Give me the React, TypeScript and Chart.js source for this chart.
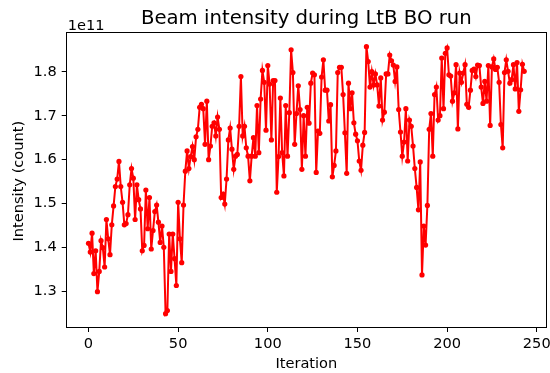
import React, { useEffect, useRef } from "react";
import { Chart, registerables } from "chart.js";

Chart.register(...registerables);

// Beam intensity, in units of 1e11 counts, one value per iteration
const intensityE11: number[] = [
  1.410, 1.390, 1.433, 1.341, 1.393, 1.300, 1.346, 1.416, 1.400, 1.356,
  1.464, 1.420, 1.384, 1.452, 1.495, 1.539, 1.556, 1.596, 1.539, 1.503,
  1.452, 1.455, 1.475, 1.543, 1.580, 1.558, 1.464, 1.543, 1.509,
  1.488, 1.393, 1.405, 1.531, 1.443, 1.514, 1.397, 1.439, 1.482, 1.497,
  1.458, 1.412, 1.449, 1.401, 1.250, 1.257, 1.431, 1.346, 1.431, 1.375,
  1.314, 1.503, 1.420, 1.366, 1.497, 1.574, 1.620, 1.580, 1.607, 1.630,
  1.600, 1.652, 1.669,
  1.719, 1.726, 1.716, 1.635, 1.733, 1.600, 1.631, 1.676, 1.684, 1.654,
  1.697, 1.669, 1.514, 1.522, 1.499, 1.556, 1.645, 1.672, 1.624, 1.578,
  1.608, 1.612, 1.676, 1.789, 1.654, 1.676, 1.627, 1.608, 1.552, 1.608,
  1.650,
  1.608, 1.723, 1.616, 1.738, 1.803, 1.776, 1.667, 1.814, 1.772, 1.645,
  1.780, 1.780, 1.526, 1.607, 1.740, 1.616, 1.563, 1.723, 1.608, 1.707,
  1.850, 1.798, 1.635, 1.705, 1.768, 1.714, 1.578, 1.700, 1.608, 1.719,
  1.683, 1.774,
  1.797, 1.793, 1.571, 1.665, 1.660, 1.788, 1.827, 1.758, 1.758, 1.688,
  1.725, 1.561, 1.587, 1.620, 1.798, 1.810, 1.810, 1.748, 1.661, 1.569,
  1.774, 1.716, 1.752, 1.684, 1.658, 1.643, 1.597, 1.576, 1.633, 1.662,
  1.857, 1.823,
  1.765, 1.800, 1.770, 1.795, 1.770, 1.722, 1.786, 1.690, 1.708, 1.795,
  1.795, 1.838, 1.825, 1.815, 1.778, 1.811, 1.714, 1.663, 1.608, 1.640,
  1.716, 1.597, 1.690, 1.676, 1.631, 1.580, 1.537, 1.486, 1.595, 1.338,
  1.449, 1.406, 1.496, 1.669,
  1.705, 1.608, 1.748, 1.765, 1.690, 1.700, 1.831, 1.716, 1.842, 1.854,
  1.793, 1.790, 1.733, 1.752, 1.816, 1.670, 1.797, 1.776, 1.797, 1.816,
  1.726, 1.719, 1.758, 1.803, 1.806, 1.789, 1.815, 1.814, 1.765, 1.728,
  1.778,
  1.733, 1.814, 1.678, 1.811, 1.829, 1.805, 1.810, 1.776, 1.680, 1.627,
  1.798, 1.827, 1.801, 1.774, 1.782, 1.816, 1.761, 1.821, 1.710, 1.759,
  1.817, 1.801,
];

const iterations: number[] = intensityE11.map((_, i) => i);

const xTicks: number[] = [0, 50, 100, 150, 200, 250];
const yTicks: number[] = [1.3, 1.4, 1.5, 1.6, 1.7, 1.8];

const titleText = "Beam intensity during LtB BO run";
const xLabel = "Iteration";
const yLabel = "Intensity (count)";
const offsetText = "1e11";

const FONT = '"DejaVu Sans", "Liberation Sans", sans-serif';

export default function App() {
  const canvasRef = useRef<HTMLCanvasElement | null>(null);

  useEffect(() => {
    const canvas = canvasRef.current;
    if (!canvas) return;

    const n = iterations.length;
    const xMin = 0 - (n - 1) * 0.05;
    const xMax = (n - 1) * 1.05;
    const yLo = Math.min(...intensityE11);
    const yHi = Math.max(...intensityE11);
    const yMin = yLo - (yHi - yLo) * 0.05;
    const yMax = yHi + (yHi - yLo) * 0.05;

    const decor = {
      id: "decor",
      afterDraw(chart: any) {
        const { ctx, chartArea } = chart;
        const cx = (chartArea.left + chartArea.right) / 2;
        const cy = (chartArea.top + chartArea.bottom) / 2;
        ctx.save();
        // frame
        ctx.strokeStyle = "#000";
        ctx.lineWidth = 1;
        ctx.strokeRect(
          Math.round(chartArea.left) - 0.5,
          Math.round(chartArea.top) - 0.5,
          Math.round(chartArea.right) - Math.round(chartArea.left) + 1,
          Math.round(chartArea.bottom) - Math.round(chartArea.top) + 1
        );
        ctx.fillStyle = "#000";
        // title
        ctx.font = `19.7px ${FONT}`;
        ctx.textAlign = "center";
        ctx.textBaseline = "middle";
        ctx.fillText(titleText, cx, 19);
        // x label
        ctx.font = `14.6px ${FONT}`;
        ctx.fillText(xLabel, cx, 364);
        // offset text
        ctx.textAlign = "left";
        ctx.textBaseline = "alphabetic";
        ctx.fillText(offsetText, chartArea.left + 1, 30);
        // y label
        ctx.translate(19, cy + 1);
        ctx.rotate(-Math.PI / 2);
        ctx.textAlign = "center";
        ctx.textBaseline = "middle";
        ctx.fillText(yLabel, 0, 0);
        ctx.restore();
      },
    };

    const chart = new Chart(canvas, {
      type: "line",
      data: {
        datasets: [
          {
            data: iterations.map((it, i) => ({ x: it, y: intensityE11[i] })),
            borderColor: "#ff0000",
            backgroundColor: "#ff0000",
            pointBackgroundColor: "#ff0000",
            pointBorderColor: "#ff0000",
            borderWidth: 2,
            pointRadius: 2.6,
            pointBorderWidth: 0,
            tension: 0,
            fill: false,
          },
        ],
      },
      options: {
        animation: false,
        responsive: false,
        devicePixelRatio: 1,
        layout: { padding: { left: 0, right: 2.7, top: 33.3, bottom: 0 } },
        plugins: {
          legend: { display: false },
          title: { display: false },
          tooltip: { enabled: false },
        },
        scales: {
          x: {
            type: "linear",
            min: xMin,
            max: xMax,
            afterBuildTicks: (scale: any) => {
              scale.ticks = xTicks.map((v) => ({ value: v }));
            },
            afterFit: (scale: any) => {
              scale.height = 46;
              scale.paddingLeft = 0;
              scale.paddingRight = 0;
            },
            ticks: {
              color: "#000",
              font: { family: FONT, size: 14.6 },
              padding: 3,
              maxRotation: 0,
              autoSkip: false,
              callback: (v: any) => String(v),
            },
            grid: {
              display: true,
              drawOnChartArea: false,
              drawTicks: true,
              tickLength: 5,
              tickColor: "#000",
              lineWidth: 1,
            },
            border: { display: false },
          },
          y: {
            type: "linear",
            min: yMin,
            max: yMax,
            afterBuildTicks: (scale: any) => {
              scale.ticks = yTicks.map((v) => ({ value: v }));
            },
            afterFit: (scale: any) => {
              scale.width = 66.7;
              scale.paddingTop = 0;
              scale.paddingBottom = 0;
            },
            ticks: {
              color: "#000",
              font: { family: FONT, size: 14.6 },
              padding: 5,
              autoSkip: false,
              callback: (v: any) => Number(v).toFixed(1),
            },
            grid: {
              display: true,
              drawOnChartArea: false,
              drawTicks: true,
              tickLength: 5,
              tickColor: "#000",
              lineWidth: 1,
            },
            border: { display: false },
          },
        },
      },
      plugins: [decor],
    } as any);

    return () => {
      chart.destroy();
    };
  }, []);

  return (
    <div style={{ position: "absolute", left: 0, top: 0, width: 550, height: 373, background: "#fff" }}>
      <canvas ref={canvasRef} width={550} height={373} style={{ display: "block", width: 550, height: 373 }} />
    </div>
  );
}
